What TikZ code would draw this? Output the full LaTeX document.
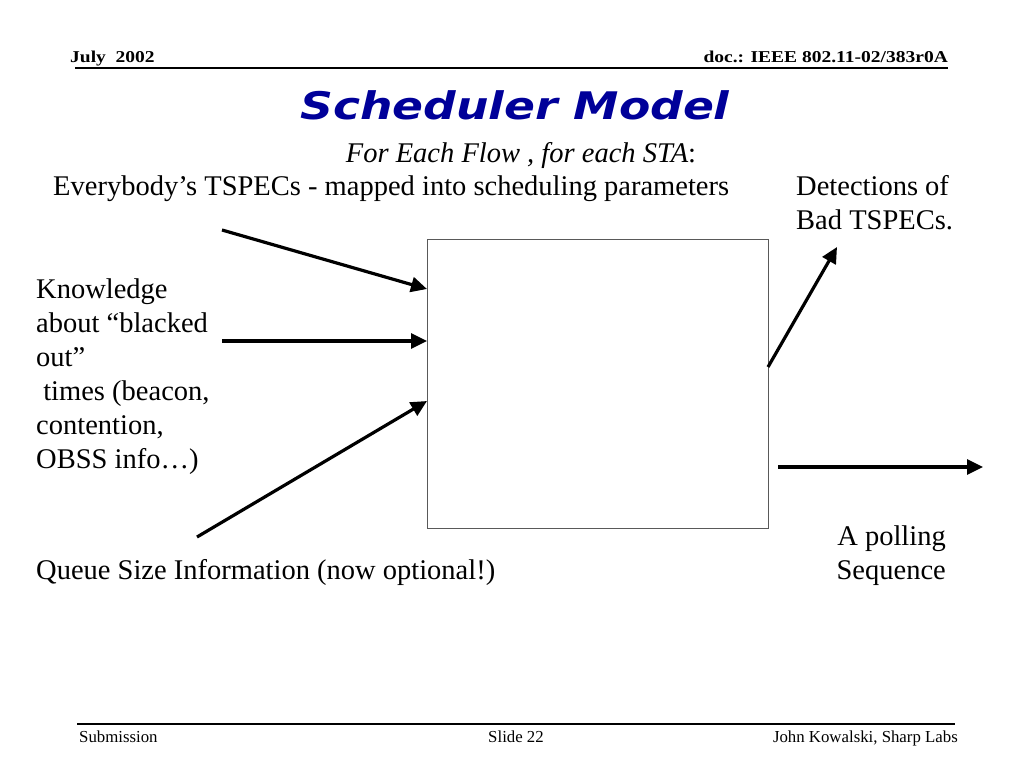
\documentclass[tikz,border=0pt]{standalone}
\usepackage{fontspec}
\setmainfont{Liberation Serif}
\newfontfamily\titlefont{DejaVu Sans}
\usetikzlibrary{arrows.meta}
\definecolor{titleblue}{RGB}{0,0,153}
\tikzset{
  txt/.style={inner sep=0pt, font=\fontsize{28.5}{34}\selectfont},
  hdr/.style={inner sep=0pt, font=\fontsize{19.5}{22}\selectfont\bfseries},
  ftr/.style={inner sep=0pt, font=\fontsize{16.8}{18}\selectfont},
  arr/.style={line width=3.2pt, -{Triangle[length=16pt,width=15pt]}},
}
\begin{document}
\begin{tikzpicture}[x=1pt,y=-1pt]
\useasboundingbox (0,0) rectangle (1024,768);
% header
\node[hdr, anchor=base west] (date) at (70,63) {\scalebox{1}[0.85]{July\ \ 2002}};
\node[hdr, anchor=base east] (doc) at (948,63) {\scalebox{1}[0.85]{doc.: IEEE 802.11-02/383r0A}};
\draw[line width=1.3pt] (75,68) -- (948,68);
% title
\node[inner sep=0pt, anchor=base, text=titleblue, font=\fontsize{38}{42}\selectfont\titlefont\bfseries\itshape] (title) at (515,119) {\scalebox{1.2}[1]{Scheduler Model}};
\node[txt, anchor=base, font=\fontsize{28.5}{34}\selectfont\itshape] (sub) at (521,162) {For Each Flow , for each STA\upshape:};
\node[txt, anchor=base west] (tspec) at (53,195) {Everybody’s TSPECs - mapped into scheduling parameters};
\node[txt, anchor=base west, align=left] (detect) at (796,229) {Detections of\\Bad TSPECs.};
% box
\node[draw=black!65, line width=1.3pt, minimum width=341pt, minimum height=289pt, inner sep=0pt, anchor=north west] (box) at (427,239) {};
% left text
\node[txt, anchor=base west, align=left] (know) at (36,468) {Knowledge\\about “blacked\\out”\\\ times (beacon,\\contention,\\OBSS info…)};
\node[txt, anchor=base west] (queue) at (36,579) {Queue Size Information (now optional!)};
\node[txt, anchor=base east, align=right] (poll) at (946,579) {A polling\\Sequence};
% arrows
\coordinate (a1) at (222,230);
\coordinate (a2) at (222,341);
\coordinate (a3) at (197,537);
\coordinate (b1) at (427,289);
\coordinate (b2) at (427,341);
\coordinate (b3) at (427,401);
\coordinate (c1) at (768,367);
\coordinate (d1) at (837,247);
\coordinate (c2) at (778,467);
\coordinate (d2) at (983,467);
\draw[arr] (a1) -- (b1);
\draw[arr] (a2) -- (b2);
\draw[arr] (a3) -- (b3);
\draw[arr] (c1) -- (d1);
\draw[arr] (c2) -- (d2);
% footer
\draw[line width=1.3pt] (77,724) -- (955,724);
\node[ftr, anchor=base west] (sub1) at (79,742) {Submission};
\node[ftr, anchor=base] (slide) at (516,742) {Slide 22};
\node[ftr, anchor=base east] (auth) at (958,742) {John Kowalski, Sharp Labs};
\end{tikzpicture}
\end{document}
